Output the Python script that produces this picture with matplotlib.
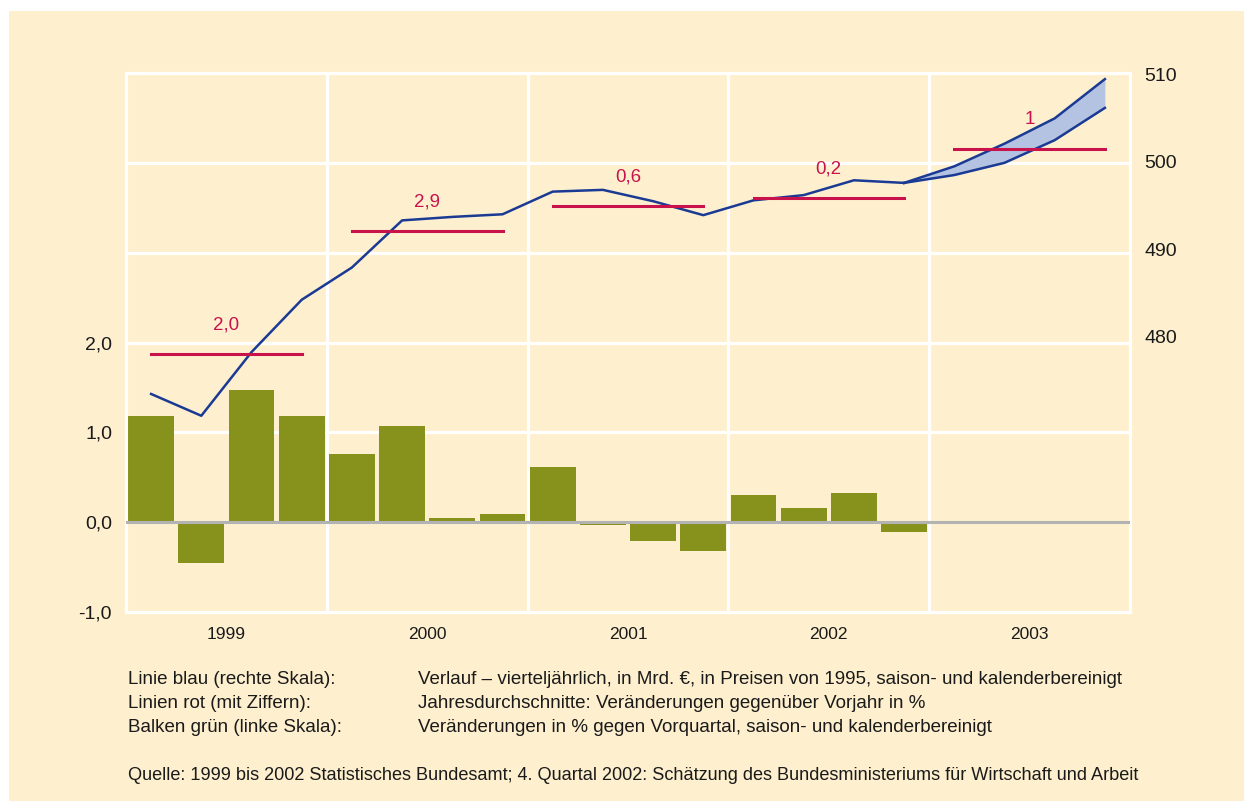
import matplotlib
matplotlib.use("Agg")
import matplotlib.pyplot as plt
from matplotlib.patches import Rectangle

plt.rcParams['font.family'] = ['Liberation Sans', 'DejaVu Sans']

# --- data ---
years = ['1999', '2000', '2001', '2002', '2003']
# quarterly change in % vs previous quarter (left scale), 1999 Q1 .. 2002 Q4
bar_values = [1.18, -0.46, 1.47, 1.18, 0.76, 1.07, 0.05, 0.09,
              0.61, -0.03, -0.21, -0.32, 0.30, 0.16, 0.33, -0.11]
# quarterly level in bn EUR (right scale), 1999 Q1 .. 2002 Q4
level = [473.4, 470.9, 478.2, 484.2, 487.9, 493.3, 493.7, 494.0,
         496.6, 496.8, 495.5, 493.9, 495.6, 496.2, 497.9, 497.6]
# 2003 forecast band, starting at 2002 Q4
forecast_high = [497.6, 499.5, 502.1, 505.0, 509.5]
forecast_low = [497.6, 498.5, 499.9, 502.5, 506.2]
# annual averages (red lines, drawn on right scale) and their labels
annual_level = [478.0, 492.1, 494.9, 495.9, 501.5]
annual_labels = ['2,0', '2,9', '0,6', '0,2', '1']

left_ticks = [-1, 0, 1, 2]
left_labels = ['-1,0', '0,0', '1,0', '2,0']
right_ticks = [480, 490, 500, 510]

footer_rows = [
    ('Linie blau (rechte Skala):',
     'Verlauf – vierteljährlich, in Mrd. €, in Preisen von 1995, saison- und kalenderbereinigt'),
    ('Linien rot (mit Ziffern):',
     'Jahresdurchschnitte: Veränderungen gegenüber Vorjahr in %'),
    ('Balken grün (linke Skala):',
     'Veränderungen in % gegen Vorquartal, saison- und kalenderbereinigt'),
]
source = ('Quelle: 1999 bis 2002 Statistisches Bundesamt; 4. Quartal 2002: '
          'Schätzung des Bundesministeriums für Wirtschaft und Arbeit')

cream = '#fef0cf'
olive = '#86921c'
blue = '#1a3a94'
red = '#c8124c'
band = '#b5c3e2'

W, H = 1244, 801
fig = plt.figure(figsize=(W / 100, H / 100), dpi=100, facecolor='white')
fig.patches.append(Rectangle((9 / W, 0), 1, 1 - 11 / H, transform=fig.transFigure,
                             facecolor=cream, edgecolor='none', zorder=-10))

ax = fig.add_axes([126 / W, 1 - 612 / H, (1130 - 126) / W, (612 - 73) / H])
ax.set_facecolor(cream)
ax2 = ax.twinx()

n = len(years) * 4
xq = list(range(n))

# bars
ax.bar(xq[:len(bar_values)], bar_values, width=0.91, color=olive, zorder=2)
ax.axhline(0, color='#b3b3b3', lw=2.2, zorder=3)
ax.set_xlim(-0.5, n - 0.5)
ax.set_ylim(-1, 5)

# white grid
for y in range(-1, 6):
    ax.axhline(y, color='white', lw=2.2, zorder=1)
for k in range(1, len(years)):
    ax.axvline(4 * k - 0.5, color='white', lw=2.2, zorder=1)
for s in ax.spines.values():
    s.set_color('white')
    s.set_linewidth(2.2)
for s in ax2.spines.values():
    s.set_visible(False)

ax.set_yticks(left_ticks)
ax.set_yticklabels(left_labels)
ax.tick_params(axis='y', length=0, pad=10, labelsize=14, colors='#1a1a1a')
ax.set_xticks([4 * i + 1.5 for i in range(len(years))])
ax.set_xticklabels(years)
ax.tick_params(axis='x', length=0, pad=11, labelsize=12.5, colors='#1a1a1a')

# level line and forecast band
ax2.plot(xq[:len(level)], level, color=blue, lw=1.8, zorder=4)
xf = xq[len(level) - 1:]
ax2.fill_between(xf, forecast_low, forecast_high, color=band, lw=0, zorder=3)
ax2.plot(xf, forecast_high, color=blue, lw=1.8, zorder=4)
ax2.plot(xf, forecast_low, color=blue, lw=1.8, zorder=4)

# annual averages
for i, (lv, lab) in enumerate(zip(annual_level, annual_labels)):
    ax2.plot([4 * i, 4 * i + 3], [lv, lv], color=red, lw=2.2, zorder=5)
    ax2.annotate(lab, (4 * i + 1.5, lv), xytext=(0, 29), textcoords='offset pixels',
                 ha='center', va='center', color=red, fontsize=13.5)

ax2.set_ylim(448.4, 510.2)
ax2.set_yticks(right_ticks)
ax2.tick_params(axis='y', length=0, pad=10.5, labelsize=14, colors='#1a1a1a')

# footer
row_y = [680, 703, 727]
for (a, b), y in zip(footer_rows, row_y):
    fig.text(128 / W, 1 - y / H, a, ha='left', va='center', fontsize=13.5, color='#1a1a1a')
    fig.text(418 / W, 1 - y / H, b, ha='left', va='center', fontsize=13.5, color='#1a1a1a')
fig.text(128 / W, 1 - 775 / H, source, ha='left', va='center', fontsize=13.1, color='#1a1a1a')

fig.savefig('out.png', dpi=100, facecolor='white')
